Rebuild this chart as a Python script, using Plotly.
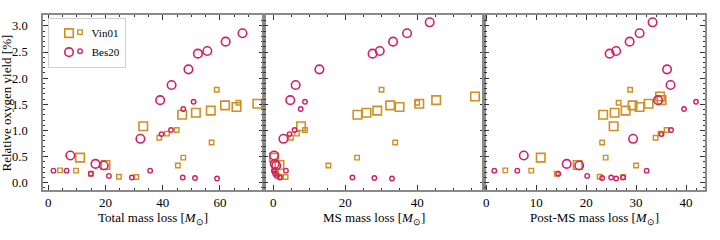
import plotly.graph_objects as go
from plotly.subplots import make_subplots

# ---------------- data ----------------
# Vin01, large markers
vin_big_y    = [0.48, 0.34, 1.08, 1.30, 1.34, 1.38, 1.48, 1.45, 1.51, 1.58, 1.65]
vin_big_ms   = [0.2, 1.7, 7.7, 23.4, 25.9, 28.9, 32.5, 35.1, 40.6, 45.3, 56.1]
vin_big_post = [10.9, 18.3, 25.5, 23.4, 25.7, 27.9, 29.3, 30.7, 32.5, 35.1, 34.8]
# Vin01, small markers
vin_small_y    = [0.235, 0.23, 0.17, 0.115, 0.11, 0.86, 0.94, 1.01, 0.33, 0.48, 0.77, 1.78, 1.53]
vin_small_ms   = [0.3, 0.7, 0.8, 2.0, 3.4, 4.9, 6.6, 8.8, 15.3, 23.3, 33.9, 30.1, 40.0]
vin_small_post = [3.8, 9.0, 14.1, 22.7, 27.4, 33.9, 34.9, 36.1, 30.0, 23.9, 23.2, 28.8, 26.5]
# Bes20, large markers
bes_big_y    = [0.52, 0.36, 0.33, 0.84, 1.58, 1.87, 2.17, 2.47, 2.52, 2.70, 2.86, 3.07]
bes_big_ms   = [0.2, 0.4, 0.8, 2.8, 4.7, 6.2, 12.8, 27.6, 29.6, 33.3, 37.2, 43.5]
bes_big_post = [7.5, 16.1, 18.6, 29.4, 34.4, 36.9, 36.2, 24.7, 26.0, 28.7, 30.7, 33.3]
# Bes20, small markers
bes_small_y    = [0.23, 0.23, 0.17, 0.13, 0.10, 0.23, 0.93, 1.01, 1.41, 0.10, 1.55, 0.09, 0.08]
bes_small_ms   = [0.2, 0.2, 0.5, 1.0, 1.8, 3.5, 4.5, 5.9, 7.6, 22.0, 8.8, 28.1, 33.0]
bes_small_post = [1.6, 6.2, 14.4, 20.2, 27.4, 32.1, 35.1, 37.0, 39.6, 25.0, 42.0, 23.2, 26.0]

x_titles = ["Total mass loss [<i>M</i><sub>⊙</sub>]",
            "MS mass loss [<i>M</i><sub>⊙</sub>]",
            "Post-MS mass loss [<i>M</i><sub>⊙</sub>]"]
y_title = "Relative oxygen yield [%]"

VIN_C = "#cf8f22"
BES_C = "#d41f66"
FONT = "Liberation Serif"
FS = 13


def total(a, b):
    return [p + q for p, q in zip(a, b)]


series = [
    dict(name="Vin01", y=vin_big_y, ms=vin_big_ms, post=vin_big_post,
         symbol="square-open", size=8.5, lw=1.6, color=VIN_C, big=True),
    dict(name="Vin01", y=vin_small_y, ms=vin_small_ms, post=vin_small_post,
         symbol="square-open", size=4.5, lw=1.4, color=VIN_C, big=False),
    dict(name="Bes20", y=bes_big_y, ms=bes_big_ms, post=bes_big_post,
         symbol="circle-open", size=8.5, lw=1.6, color=BES_C, big=True),
    dict(name="Bes20", y=bes_small_y, ms=bes_small_ms, post=bes_small_post,
         symbol="circle-open", size=4.5, lw=1.4, color=BES_C, big=False),
]

fig = make_subplots(rows=1, cols=3, shared_yaxes=True, horizontal_spacing=0)

for col in range(1, 4):
    for s in series:
        if col == 1:
            xs = total(s["ms"], s["post"])
        elif col == 2:
            xs = s["ms"]
        else:
            xs = s["post"]
        show = col == 1
        fig.add_trace(go.Scatter(
            x=xs, y=s["y"], mode="markers",
            name=(" " + s["name"]) if s["big"] else " ",
            legend="legend" if s["big"] else "legend2",
            showlegend=show,
            marker=dict(symbol=s["symbol"], size=s["size"], color=s["color"],
                        line=dict(width=s["lw"], color=s["color"])),
            hoverinfo="skip",
        ), row=1, col=col)

axis_common = dict(
    showgrid=False, zeroline=False, showline=True, linecolor="#8a8a8a",
    linewidth=1.6, mirror="allticks", ticks="inside", ticklen=5, tickwidth=1,
    tickcolor="#333", tickfont=dict(family=FONT, size=FS, color="black"),
    automargin=False,
)

x_ranges = [[-1.85, 75.3], [-2.7, 58.7], [-0.4, 43.8]]
x_dticks = [20, 20, 10]
x_minor = [5, 5, 2]
for i in range(3):
    fig.update_xaxes(
        range=x_ranges[i], dtick=x_dticks[i], tick0=0,
        minor=dict(dtick=x_minor[i], ticks="inside", ticklen=2.5,
                   tickcolor="#333", showgrid=False),
        **axis_common, row=1, col=i + 1)

for i in range(3):
    fig.update_yaxes(
        range=[-0.14, 3.21], dtick=0.5, tick0=0, tickformat=".1f",
        minor=dict(dtick=0.1, ticks="inside", ticklen=2.5, tickcolor="#333",
                   showgrid=False),
        showticklabels=(i == 0),
        **axis_common, row=1, col=i + 1)
fig.update_yaxes(ticklabelstandoff=11, tickfont=dict(family=FONT, size=12.5, color="black"),
                 row=1, col=1)

# axis titles as text placed in the margins
fig.add_annotation(text=y_title, textangle=-90, xref="paper", yref="paper",
                   x=-0.0544, y=0.5, xanchor="center", yanchor="middle",
                   showarrow=False, font=dict(family=FONT, size=FS, color="black"))
for i, xt in enumerate(x_titles):
    ref = "x domain" if i == 0 else f"x{i + 1} domain"
    fig.add_annotation(text=xt, xref=ref, yref="paper", x=0.5, y=-0.16,
                       xanchor="center", yanchor="middle", showarrow=False,
                       font=dict(family=FONT, size=FS, color="black"))

fig.update_layout(
    width=720, height=240,
    margin=dict(l=43, r=15, t=15, b=49.5),
    plot_bgcolor="white", paper_bgcolor="white",
    font=dict(family=FONT, size=FS, color="black"),
    legend=dict(x=0.0076, y=0.985, xanchor="left", yanchor="top",
                bgcolor="rgba(255,255,255,0.9)", bordercolor="#d0d0d0", borderwidth=1,
                font=dict(family=FONT, size=11), itemsizing="trace",
                tracegroupgap=0),
    legend2=dict(x=0.0257, y=0.985, xanchor="left", yanchor="top",
                 bgcolor="rgba(0,0,0,0)", borderwidth=0,
                 font=dict(family=FONT, size=11), itemsizing="trace"),
)

# remove the default 8 px page margin so the 720x240 figure fills the window
fig.write_html("out.html",
               config={"displayModeBar": False},
               post_script="document.body.style.margin='0';"
                           "document.body.style.overflow='hidden';")
